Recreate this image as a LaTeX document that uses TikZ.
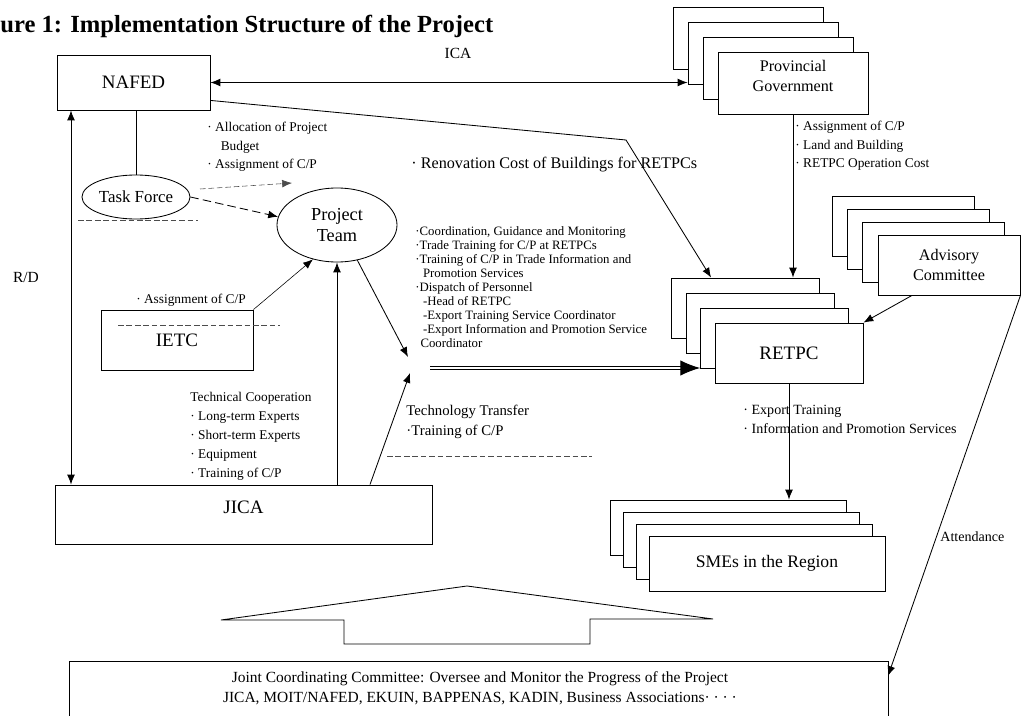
\documentclass[tikz,border=0pt]{standalone}
\usepackage{fontspec}
\setmainfont{Liberation Serif}
\usetikzlibrary{arrows.meta}
\usetikzlibrary{shapes.geometric}

\begin{document}
\begin{tikzpicture}[x=0.025cm,y=-0.025cm,line width=0.6pt,
  >={Latex[length=7pt,width=5.5pt]},
  box/.style={draw,fill=white,inner sep=0pt},
  oval/.style={draw,ellipse,fill=white,inner sep=0pt},
  big/.style={font=\fontsize{13.5}{16}\selectfont},
  mid/.style={font=\fontsize{11.5}{14}\selectfont,align=center},
  note/.style={font=\fontsize{9.5}{13}\selectfont,align=left,inner sep=0pt},
  tiny/.style={font=\fontsize{9.1}{10}\selectfont,align=left,inner sep=0pt},
  scan/.style={line width=0.4pt,dash pattern=on 4pt off 2pt,black!70}]
\useasboundingbox (0,0) rectangle (1021,716);

% title
\node[anchor=west,inner sep=0pt,font=\fontsize{17.5}{20}\bfseries\selectfont] (title) at (0,26) {ure 1: Implementation Structure of the Project};

% stacked boxes
\foreach \d/\n in {3/a,2/b,1/c}
  \node[box,minimum width=3.75cm,minimum height=1.55cm] (prov\n) at (793-15*\d,83-15*\d) {};
\foreach \d/\n in {3/a,2/b,1/c}
  \node[box,minimum width=3.7cm,minimum height=1.5cm] (retpc\n) at (789-14.5*\d,353-15*\d) {};
\foreach \d/\n in {3/a,2/b,1/c}
  \node[box,minimum width=3.55cm,minimum height=1.5cm] (adv\n) at (949-15.3*\d,265-12.7*\d) {};
\foreach \d/\n in {3/a,2/b,1/c}
  \node[box,minimum width=5.9cm,minimum height=1.375cm] (smes\n) at (767-13*\d,563.5-12*\d) {};

\node[box,big,minimum width=3.825cm,minimum height=1.375cm] (nafed) at (133.5,82.5) {NAFED};
\node[box,mid,minimum width=3.75cm,minimum height=1.55cm,text depth=0.35cm] (prov) at (793,83) {Provincial\\Government};
\node[box,mid,minimum width=3.55cm,minimum height=1.5cm] (adv) at (949,265) {Advisory\\Committee};
\node[box,big,minimum width=3.7cm,minimum height=1.5cm] (retpc) at (789,353) {RETPC};
\node[box,font=\fontsize{12.5}{15}\selectfont,minimum width=5.9cm,minimum height=1.375cm] (smes) at (767,563.5) {SMEs in the Region};
\node[box,big,minimum width=9.425cm,minimum height=1.475cm,text depth=0.38cm] (jica) at (243.5,514.5) {JICA};
\node[box,big,minimum width=3.8cm,minimum height=1.5cm] (ietc) at (177,340) {IETC};
\node[oval,font=\fontsize{12}{14}\selectfont,minimum width=2.7cm,minimum height=1.1cm] (tf) at (136,197) {Task Force};
\node[oval,font=\fontsize{13}{15}\selectfont,align=center,minimum width=3cm,minimum height=1.85cm] (pt) at (337,225) {Project\\Team};

% joint committee
\draw (69,716) |- (888,661) -- (888,716);
\node[font=\fontsize{11}{14.5}\selectfont,align=center] (jcc) at (480,688) {Joint Coordinating Committee: Oversee and Monitor the Progress of the Project\\JICA, MOIT/NAFED, EKUIN, BAPPENAS, KADIN, Business Associations· · · ·};
\coordinate (jccin) at (888,676);
\draw (221,620) -- (467,586) -- (713,619) -- (590,619) -- (590,644) -- (344,644) -- (344,620) -- cycle;

% connectors
\coordinate (bend) at (626,140);
\coordinate (hub) at (430,368);
\coordinate (ptin) at (408,357);
\coordinate (jin) at (410,373);
\draw[<->] (nafed.east) -- (nafed.east -| provb.west);
\draw[->] ([yshift=0.25cm]nafed.south east) -- (bend) -- ([xshift=1cm]retpca.north west);
\draw[->] (prov.south) -- (prov.south |- retpca.north);
\draw[->] ([xshift=-0.925cm]adv.south) -- (retpc.north east);
\draw[->] (adv.south east) -- (jccin);
\draw[->] (retpc.south) -- (retpc.south |- smesa.north);
\draw[<->] (nafed.south -| 71,0) -- (jica.north -| 71,0);
\draw (tf.north |- nafed.south) -- (tf.north);
\draw[->,dash pattern=on 6pt off 3pt] (tf.east) -- (pt.172);
\draw[->,line width=0.4pt] (ietc.north east) -- (pt.235);
\draw[->] (jica.north -| pt.south) -- (pt.south);
\draw[->] (pt.-60) -- (ptin);
\draw[->] (jica.north -| 370,0) -- (jin);
\draw[double,double distance=1.6pt,-{Latex[length=14pt,width=11pt]}] (hub) -- (hub -| retpcc.west);

% scanned rules
\draw[scan] (78,220) -- (198,220);
\draw[scan,->] (200,189) -- (292,183);
\draw[scan] (118,325) -- (280,325);
\draw[scan] (387,456) -- (592,456);

% labels
\node[font=\fontsize{11}{13}\selectfont] (ica) at (458,53) {ICA};
\node[font=\fontsize{11}{13}\selectfont] (rd) at (26,277) {R/D};
\node[note,anchor=north west] (allo) at (207,122) {· Allocation of Project\\\hspace{1em}Budget\\· Assignment of C/P};
\node[note] (ietccp) at (191,300) {· Assignment of C/P};
\node[note,anchor=north west,font=\fontsize{9.5}{13.5}\selectfont] (tech) at (190,392) {Technical Cooperation\\· Long-term Experts\\· Short-term Experts\\· Equipment\\· Training of C/P};
\node[note,anchor=north west,font=\fontsize{10.5}{14}\selectfont] (ttran) at (406,405) {Technology Transfer\\·Training of C/P};
\node[note,anchor=west,font=\fontsize{11.5}{13}\selectfont] (renov) at (411,165) {· Renovation Cost of Buildings for RETPCs};
\node[tiny,anchor=north west] (block) at (415,226) {·Coordination, Guidance and Monitoring\\·Trade Training for C/P at RETPCs\\·Training of C/P in Trade Information and\\\hspace{0.6em}Promotion Services\\·Dispatch of Personnel\\\hspace{0.6em}-Head of RETPC\\\hspace{0.6em}-Export Training Service Coordinator\\\hspace{0.6em}-Export Information and Promotion Service\\\hspace{0.4em}Coordinator};
\node[note,anchor=north west] (provl) at (795,121) {· Assignment of C/P\\· Land and Building\\· RETPC Operation Cost};
\node[note,anchor=north west,font=\fontsize{10}{13.5}\selectfont] (expl) at (743,405) {· Export Training\\· Information and Promotion Services};
\node[note,anchor=west,font=\fontsize{10}{12}\selectfont] (att) at (940,537) {Attendance};
\end{tikzpicture}
\end{document}
